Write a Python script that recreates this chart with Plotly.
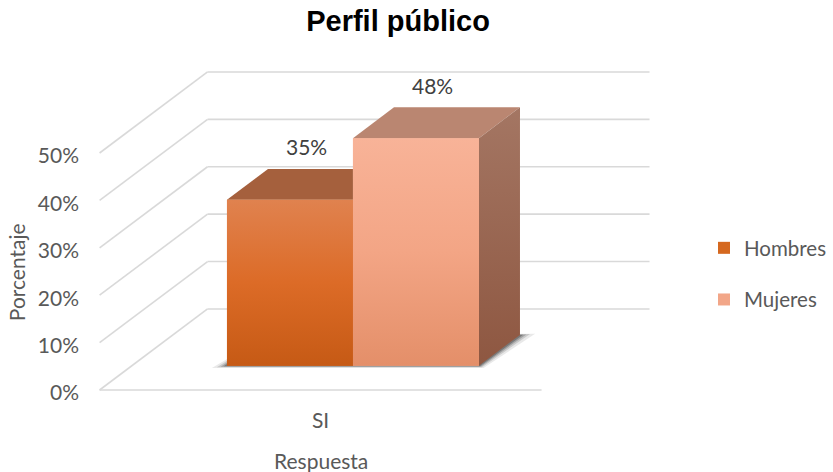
import plotly.graph_objects as go

# ---------------- data ----------------
categories = ["SI"]
series_names = ["Hombres", "Mujeres"]
hombres = [35]
mujeres = [48]
y_tick_values = [0, 10, 20, 30, 40, 50]
y_tick_labels = ["0%", "10%", "20%", "30%", "40%", "50%"]
chart_title = "Perfil público"
x_title = "Respuesta"
y_title = "Porcentaje"

# ---------------- style / 3D projection ----------------
DX_FULL = 0.857      # horizontal shift for full depth (x units)
DY_FULL = 17.1       # vertical shift for full depth (y units)
FLOOR_HALF = 1.754   # half width of floor
D_FRONT = 0.30       # depth of bar front plane
D_BACK = 0.68        # depth of bar back plane
BAR_W = 1.0

FIG_W, FIG_H = 833, 472

FONT = "Lato"
GRID = "#D9D9D9"
front_scales = [
    [[0, "#C65A15"], [0.5, "#DC6B27"], [1, "#E0824F"]],
    [[0, "#E48F69"], [0.5, "#F3A585"], [1, "#F8B398"]],
]
top_colors = ["#A5603D", "#BA8671"]
side_scales = [
    [[0, "#8E5741"], [1, "#A47663"]],
    [[0, "#8E5741"], [1, "#A47663"]],
]
legend_colors = ["#D5681F", "#F2A688"]


def cx(d):
    return (d - D_FRONT) * DX_FULL


base = DY_FULL * D_FRONT
ddx = (D_BACK - D_FRONT) * DX_FULL
ddy = (D_BACK - D_FRONT) * DY_FULL

series_values = [hombres, mujeres]
n = len(series_names)
centers = [(i - (n - 1) / 2) * BAR_W for i in range(n)]

fig = go.Figure()
shapes = []

# grid: left wall diagonals, back wall lines, front floor edge
for v in y_tick_values:
    x0, x1 = cx(0) - FLOOR_HALF, cx(1) - FLOOR_HALF
    x2 = cx(1) + FLOOR_HALF
    shapes.append(dict(type="line", xref="x", yref="y", x0=x0, y0=v, x1=x1, y1=v + DY_FULL,
                       line=dict(color=GRID, width=1.6), layer="below"))
    shapes.append(dict(type="line", xref="x", yref="y", x0=x1, y0=v + DY_FULL, x1=x2, y1=v + DY_FULL,
                       line=dict(color=GRID, width=1.6), layer="below"))
shapes.append(dict(type="line", xref="x", yref="y", x0=cx(0) - FLOOR_HALF, y0=0,
                   x1=cx(0) + FLOOR_HALF, y1=0, line=dict(color=GRID, width=1.6), layer="below"))

# soft shadow under bars
left = centers[0] - BAR_W / 2
right = centers[-1] + BAR_W / 2
for grow, op in [(0.12, 0.10), (0.08, 0.16), (0.05, 0.24), (0.025, 0.35)]:
    pts = [(left - grow, base - grow * 4), (right + grow * 0.3, base - grow * 4),
           (right + ddx + grow, base + ddy + grow * 2), (left + ddx, base + ddy)]
    path = "M " + " L ".join(f"{px},{py}" for px, py in pts) + " Z"
    shapes.append(dict(type="path", xref="x", yref="y", path=path,
                       fillcolor=f"rgba(40,40,40,{op})", line=dict(width=0), layer="below"))

# front faces as bars (legend entries)
for i, name in enumerate(series_names):
    fig.add_trace(go.Bar(
        x=[centers[i]], y=[series_values[i][0]], base=[base], width=[BAR_W],
        name=name, marker=dict(color=legend_colors[i], line=dict(width=0)),
        legendgroup=name, hoverinfo="skip",
    ))

# 3D faces drawn in order back-to-front
for i, name in enumerate(series_names):
    v = series_values[i][0]
    top = base + v
    xl, xr = centers[i] - BAR_W / 2, centers[i] + BAR_W / 2
    # top face (clip against taller neighbour on the right)
    if i + 1 < n and series_values[i + 1][0] > v:
        tpx = [xl, xr, xr, xl + ddx, xl]
    else:
        tpx = [xl, xr, xr + ddx, xl + ddx, xl]
    tpy = [top, top, top + ddy, top + ddy, top]
    fig.add_trace(go.Scatter(x=tpx, y=tpy, fill="toself", mode="lines",
                             fillcolor=top_colors[i], line=dict(width=0),
                             showlegend=False, hoverinfo="skip"))
    # side face of the right-most bar
    if i == n - 1:
        fig.add_trace(go.Scatter(
            x=[xr, xr + ddx, xr + ddx, xr, xr],
            y=[base, base + ddy, top + ddy, top, base],
            fill="toself", mode="lines", line=dict(width=0),
            fillgradient=dict(type="vertical", colorscale=side_scales[i]),
            showlegend=False, hoverinfo="skip"))
    # gradient front face
    fig.add_trace(go.Scatter(
        x=[xl, xr, xr, xl, xl], y=[base, base, top, top, base],
        fill="toself", mode="lines", line=dict(width=0),
        fillgradient=dict(type="vertical", colorscale=front_scales[i]),
        showlegend=False, hoverinfo="skip"))

# data labels
annotations = []
for i, name in enumerate(series_names):
    v = series_values[i][0]
    annotations.append(dict(
        x=centers[i] + ddx * 0.4, y=base + v + ddy, xref="x", yref="y",
        text=f"{v}%", showarrow=False, yshift=22, yanchor="middle",
        font=dict(family=FONT, size=21, color="#404040")))

# axis titles
annotations.append(dict(x=cx(0), y=-0.179, xref="x", yref="paper", text=x_title,
                        showarrow=False, xanchor="center", yanchor="middle",
                        font=dict(family=FONT, size=21, color="#595959")))
annotations.append(dict(x=(16 - 88) / 572, y=0.376, xref="paper", yref="paper", text=y_title,
                        showarrow=False, textangle=-90, xanchor="center", yanchor="middle",
                        font=dict(family=FONT, size=21, color="#595959")))

# plot area in page pixels: x 88..660, y 60..400
fig.update_layout(
    width=FIG_W, height=FIG_H,
    margin=dict(l=88, r=FIG_W - 660, t=60, b=FIG_H - 400, autoexpand=False),
    paper_bgcolor="white", plot_bgcolor="white",
    barmode="overlay",
    title=dict(text=f"<b>{chart_title}</b>", x=398 / FIG_W, xref="container",
               xanchor="center", y=1 - 21 / FIG_H, yref="container", yanchor="middle",
               font=dict(family="Liberation Sans", size=29, color="#000000")),
    xaxis=dict(range=[-2.103, 2.437], tickvals=[cx(0)], ticktext=categories,
               showgrid=False, zeroline=False, showline=False, ticks="",
               ticklabelstandoff=6, automargin=False,
               tickfont=dict(family=FONT, size=21, color="#595959"), fixedrange=True),
    yaxis=dict(range=[-2.11, 69.62], tickvals=y_tick_values, ticktext=y_tick_labels,
               showgrid=False, zeroline=False, showline=False, ticks="",
               ticklabelstandoff=8, ticklabelshift=3, automargin=False,
               tickfont=dict(family=FONT, size=21, color="#595959"), fixedrange=True),
    legend=dict(x=(704 - 88) / 572, xanchor="left", y=(400 - 274) / 340, yanchor="middle",
                font=dict(family=FONT, size=20.5, color="#595959"),
                tracegroupgap=22, bgcolor="rgba(0,0,0,0)"),
    shapes=shapes,
    annotations=annotations,
    showlegend=True,
)

# remove the default 8px page margin so the figure fills the window exactly
fig.write_html("out.html",
               config={"displayModeBar": False, "staticPlot": True},
               post_script="document.body.style.margin='0';document.body.style.overflow='hidden';")
